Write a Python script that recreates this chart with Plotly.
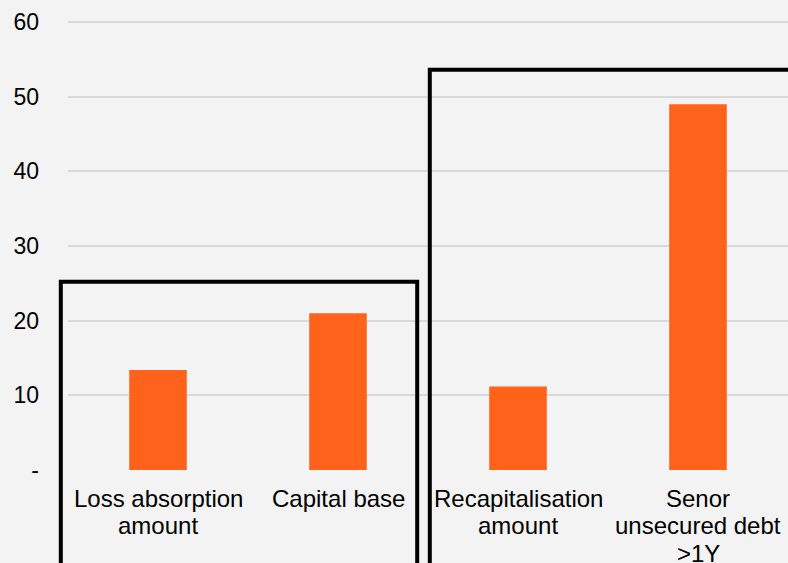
import plotly.graph_objects as go

categories = ["Loss absorption<br>amount", "Capital base", "Recapitalisation<br>amount", "Senor<br>unsecured debt<br>>1Y"]
values = [13.4, 21.0, 11.2, 49.0]
y_ticks = [0, 10, 20, 30, 40, 50, 60]
y_ticklabels = ["-", "10", "20", "30", "40", "50", "60"]

# group boxes: (first category edge, last category edge, top value)
box_left = (-0.54, 1.44, 25.2)
box_right = (1.51, 3.7, 53.6)

YTOP = 60.27  # a little above 60 so the top grid line is drawn
NCAT = len(categories)
LABEL_GAP = 28    # px from axis to middle of first label line
LINE_PITCH = 27.7  # tighter than plotly's 1.3em line spacing


def to_paper_x(c):
    return (c + 0.5) / NCAT


fig = go.Figure(go.Bar(
    x=list(range(NCAT)),
    y=values,
    marker=dict(color="#ff631b", line=dict(width=0)),
    width=0.32,
))

shapes = []
for x0, x1, top in (box_left, box_right):
    shapes.append(dict(
        type="path",
        xref="paper", yref="paper",
        path="M %f,-0.4 L %f,%f L %f,%f L %f,-0.4" % (
            to_paper_x(x0), to_paper_x(x0), top / YTOP,
            to_paper_x(x1), top / YTOP, to_paper_x(x1)),
        line=dict(color="black", width=4),
        layer="above",
    ))

# category labels, one annotation per line so the line spacing matches
annotations = []
for i, cat in enumerate(categories):
    for j, line in enumerate(cat.split("<br>")):
        annotations.append(dict(
            x=i, y=0, xref="x", yref="paper",
            text=line, showarrow=False,
            xanchor="center", yanchor="middle",
            yshift=-(LABEL_GAP + j * LINE_PITCH),
            font=dict(size=24),
        ))

fig.update_layout(
    width=788, height=563,
    margin=dict(l=68, r=0, t=20, b=93, autoexpand=False),
    paper_bgcolor="#f3f3f3",
    plot_bgcolor="#f3f3f3",
    font=dict(family="Liberation Sans, Arial", size=24, color="black"),
    showlegend=False,
    shapes=shapes,
    annotations=annotations,
    xaxis=dict(
        range=[-0.5, NCAT - 0.5],
        showticklabels=False,
        showgrid=False,
        zeroline=False,
        showline=False,
        ticks="",
        automargin=False,
    ),
    yaxis=dict(
        range=[0, YTOP],
        tickmode="array",
        tickvals=y_ticks,
        ticktext=y_ticklabels,
        showgrid=True,
        gridcolor="#d9d9d9",
        gridwidth=2,
        zeroline=False,
        ticks="",
        automargin=False,
        tickfont=dict(size=23),
        ticklabelstandoff=28,
    ),
)

fig.write_html(
    "out.html",
    config={"displayModeBar": False},
    post_script="document.body.style.margin='0';document.body.style.background='#f3f3f3';",
)
